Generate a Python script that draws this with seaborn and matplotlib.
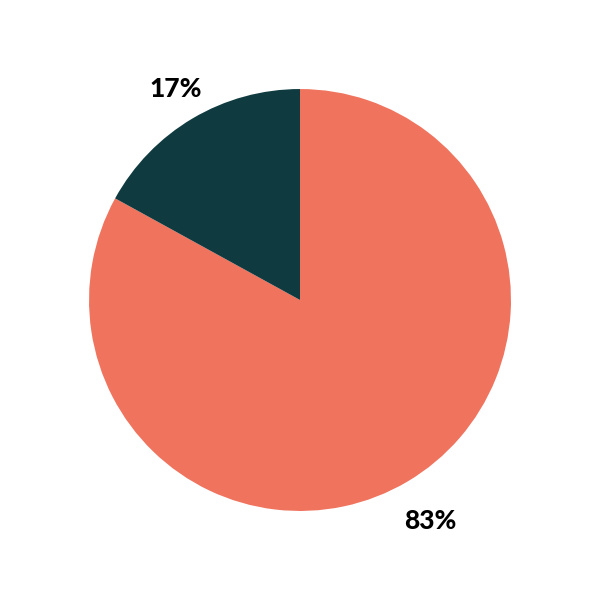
import matplotlib
matplotlib.use("Agg")
import matplotlib.pyplot as plt
import seaborn as sns
import numpy as np

labels = ["83%", "17%"]
values = [83, 17]
colors = ["#F0735E", "#0F3B40"]
label_dist = [1.215, 1.16]

sns.set_theme(style="white")
plt.rcParams['font.family'] = ['Lato', 'DejaVu Sans']

fig = plt.figure(figsize=(6, 6), dpi=100)
ax = fig.add_axes([0, 0, 1, 1])
wedges, texts = ax.pie(values, labels=labels, colors=colors, startangle=90,
                       counterclock=False, labeldistance=1.17,
                       wedgeprops=dict(linewidth=0),
                       textprops=dict(fontsize=19, fontweight='black', color='black'))
for w, t, d in zip(wedges, texts, label_dist):
    ang = np.deg2rad((w.theta1 + w.theta2) / 2)
    t.set_position((d * np.cos(ang), d * np.sin(ang)))
    t.set_ha('center')
    t.set_va('center')
ax.set_xlim(-1.422, 1.422)
ax.set_ylim(-1.422, 1.422)
ax.set_aspect('equal')
ax.axis('off')
fig.savefig("out.png", dpi=100, facecolor="white")
